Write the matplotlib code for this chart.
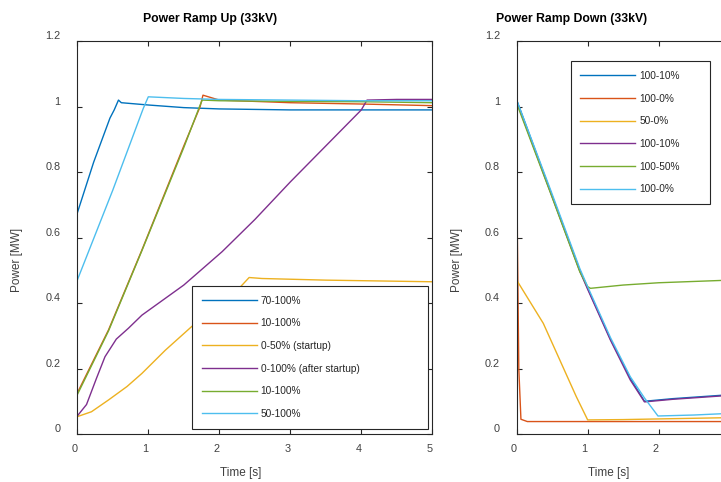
import matplotlib
matplotlib.use('Agg')
import matplotlib.pyplot as plt
from matplotlib.ticker import FuncFormatter

plt.rcParams['font.family'] = ['Liberation Sans', 'DejaVu Sans']

# MATLAB default line colours
colors = ['#0072BD', '#D95319', '#EDB120', '#7E2F8E', '#77AC30', '#4DBEEE']
axcol = '#262626'

# ramp up (left)
up_labels = ['70-100%', '10-100%', '0-50% (startup)', '0-100% (after startup)', '10-100%', '50-100%']
up_70_t = [0, 0.23, 0.46, 0.52, 0.58, 0.62, 1.0, 1.5, 2.0, 3.0, 4.0, 5.0]
up_70_p = [0.675, 0.83, 0.965, 0.99, 1.02, 1.012, 1.005, 0.997, 0.993, 0.99, 0.99, 0.99]
up_10a_t = [0, 0.44, 0.91, 1.5, 1.73, 1.77, 2.0, 3.0, 4.0, 5.0]
up_10a_p = [0.125, 0.318, 0.562, 0.88, 1.0, 1.035, 1.02, 1.012, 1.008, 1.003]
up_050_t = [0, 0.2, 0.44, 0.7, 0.91, 1.24, 1.61, 2.0, 2.3, 2.42, 2.6, 3.5, 5.0]
up_050_p = [0.053, 0.068, 0.104, 0.145, 0.185, 0.256, 0.328, 0.395, 0.45, 0.478, 0.475, 0.47, 0.465]
up_0100_t = [0, 0.13, 0.27, 0.39, 0.55, 0.72, 0.91, 1.5, 2.04, 2.5, 3.0, 3.5, 4.0, 4.08, 4.5, 5.0]
up_0100_p = [0.055, 0.09, 0.17, 0.236, 0.29, 0.323, 0.363, 0.455, 0.557, 0.655, 0.77, 0.88, 0.99, 1.02, 1.022, 1.022]
up_10b_t = [0, 0.44, 0.91, 1.5, 1.73, 1.76, 2.0, 3.0, 4.0, 5.0]
up_10b_p = [0.12, 0.315, 0.56, 0.875, 1.005, 1.02, 1.018, 1.016, 1.015, 1.012]
up_50_t = [0, 0.5, 0.93, 1.0, 1.5, 2.0, 3.0, 4.0, 5.0]
up_50_p = [0.47, 0.745, 0.995, 1.03, 1.025, 1.022, 1.02, 1.018, 1.018]

# ramp down (right)
down_labels = ['100-10%', '100-0%', '50-0%', '100-10%', '100-50%', '100-0%']
dn_10a_t = [0, 0.47, 0.89, 1.0, 1.32, 1.6, 1.8, 2.2, 3.0]
dn_10a_p = [1.02, 0.745, 0.50, 0.445, 0.29, 0.17, 0.10, 0.108, 0.12]
dn_0a_t = [0, 0.01, 0.03, 0.06, 0.15, 3.0]
dn_0a_p = [1.02, 0.6, 0.2, 0.045, 0.038, 0.038]
dn_50_t = [0, 0.375, 0.84, 1.0, 1.5, 2.0, 3.0]
dn_50_p = [0.47, 0.338, 0.114, 0.043, 0.044, 0.046, 0.05]
dn_10b_t = [0, 0.47, 0.89, 1.0, 1.32, 1.6, 1.8, 2.2, 3.0]
dn_10b_p = [1.015, 0.742, 0.497, 0.442, 0.287, 0.165, 0.098, 0.106, 0.118]
dn_5050_t = [0, 0.47, 0.89, 1.0, 1.04, 1.5, 2.0, 3.0]
dn_5050_p = [1.01, 0.74, 0.495, 0.45, 0.445, 0.455, 0.462, 0.47]
dn_0b_t = [0, 0.47, 0.89, 1.0, 1.32, 1.6, 1.8, 1.99, 2.5, 3.0]
dn_0b_p = [1.02, 0.75, 0.505, 0.45, 0.295, 0.175, 0.11, 0.055, 0.058, 0.063]

up_series = [(up_70_t, up_70_p), (up_10a_t, up_10a_p), (up_050_t, up_050_p),
             (up_0100_t, up_0100_p), (up_10b_t, up_10b_p), (up_50_t, up_50_p)]
down_series = [(dn_10a_t, dn_10a_p), (dn_0a_t, dn_0a_p), (dn_50_t, dn_50_p),
               (dn_10b_t, dn_10b_p), (dn_5050_t, dn_5050_p), (dn_0b_t, dn_0b_p)]

fig = plt.figure(figsize=(7.21, 4.82), dpi=100)
ax1 = fig.add_axes([0.1072, 0.0996, 0.4924, 0.815])
ax2 = fig.add_axes([0.7166, 0.0996, 0.4924, 0.815])

fmt = FuncFormatter(lambda v, pos: '%g' % round(v, 2))
# right panel runs off the page, only 0..2 labels are visible
fmt_cut = FuncFormatter(lambda v, pos: '%g' % round(v, 2) if v < 2.5 else '')


def style(ax, title, tx, lx, xfmt):
    ax.set_xlim(0, 5)
    ax.set_ylim(0, 1.2)
    ax.set_xticks([0, 1, 2, 3, 4, 5])
    ax.set_yticks([0, 0.2, 0.4, 0.6, 0.8, 1.0, 1.2])
    ax.xaxis.set_major_formatter(xfmt)
    ax.yaxis.set_major_formatter(fmt)
    ax.tick_params(direction='in', length=3.5, width=0.8, color=axcol,
                   top=True, right=True, labelsize=7.8, labelcolor='#404040')
    ax.tick_params(axis='x', pad=7)
    ax.tick_params(axis='y', pad=12)
    for lab in ax.get_xticklabels():
        lab.set_ha('right')
    for lab in ax.get_yticklabels():
        lab.set_va('bottom')
    for s in ax.spines.values():
        s.set_color(axcol)
        s.set_linewidth(0.8)
    ax.text(tx, 1.048, title, transform=ax.transAxes, ha='center', va='baseline',
            fontsize=8.8, fontweight='bold', color='black')
    ax.set_xlabel('Time [s]', fontsize=8.5, color='#404040')
    ax.set_ylabel('Power [MW]', fontsize=8.5, color='#404040')
    ax.xaxis.set_label_coords(lx, -0.085)
    ax.yaxis.set_label_coords(-0.152, 0.443)


for (t, p), c, lab in zip(up_series, colors, up_labels):
    ax1.plot(t, p, color=c, lw=1.0, label=lab)
for (t, p), c, lab in zip(down_series, colors, down_labels):
    ax2.plot(t, p, color=c, lw=1.0, label=lab)

style(ax1, 'Power Ramp Up (33kV)', 0.375, 0.46, fmt)
style(ax2, 'Power Ramp Down (33kV)', 0.155, 0.26, fmt_cut)

leg_kw = dict(fontsize=7.3, fancybox=False, framealpha=1, handlelength=5.4,
              labelspacing=1.25, borderpad=0.95, handletextpad=0.4,
              mode='expand', loc='upper left', borderaxespad=0)
l1 = ax1.legend(bbox_to_anchor=(0.324, 0.377, 0.665, 0.0), **leg_kw)
l2 = ax2.legend(bbox_to_anchor=(0.152, 0.949, 0.392, 0.0), **leg_kw)
for leg in (l1, l2):
    leg.get_frame().set_edgecolor(axcol)
    leg.get_frame().set_linewidth(0.8)
    for txt in leg.get_texts():
        txt.set_color('#262626')

fig.savefig('out.png', dpi=100)
